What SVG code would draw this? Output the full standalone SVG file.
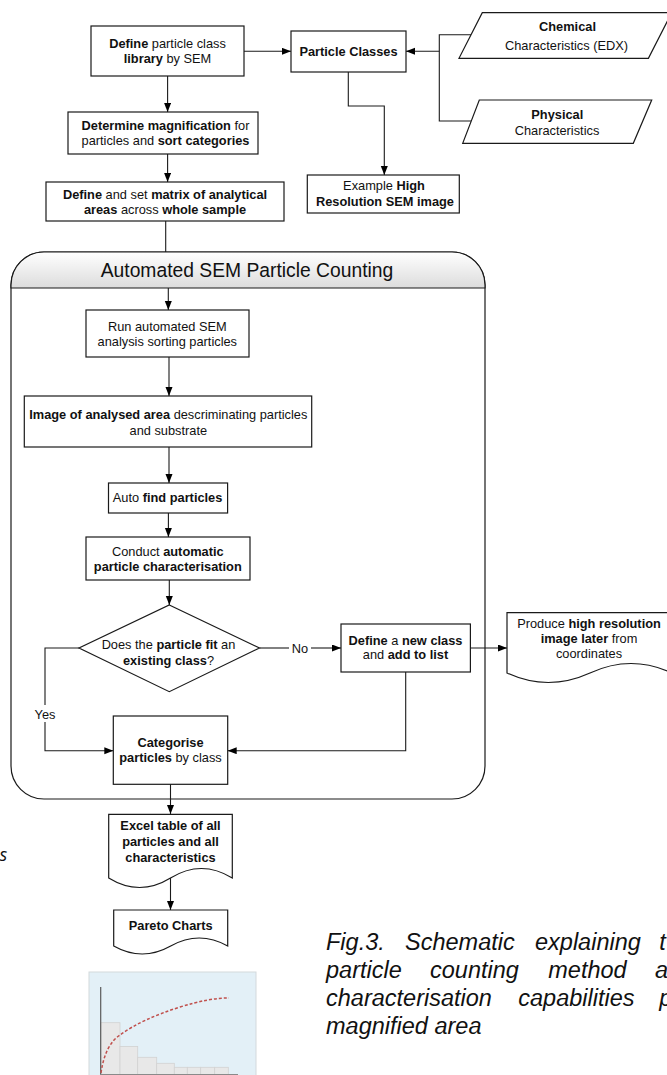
<svg xmlns="http://www.w3.org/2000/svg" width="667" height="1075" viewBox="0 0 667 1075">
<defs>
<marker id="ah" markerUnits="userSpaceOnUse" markerWidth="10" markerHeight="8" refX="9" refY="3.5" orient="auto">
<path d="M0,0 L9,3.5 L0,7 z" fill="#000"/>
</marker>
<linearGradient id="hdr" x1="0" y1="0" x2="0" y2="1">
<stop offset="0" stop-color="#ffffff"/>
<stop offset="1" stop-color="#dcdcdc"/>
</linearGradient>
<style>
text{font-family:"Liberation Sans",Arial,sans-serif;font-size:12.8px;fill:#111;text-anchor:middle}
.b{font-weight:bold}
.box{fill:#fff;stroke:#1a1a1a;stroke-width:1.2}
.ln{fill:none;stroke:#1a1a1a;stroke-width:1.1}
.arr{marker-end:url(#ah)}
.cap{font-size:23.5px;font-style:italic;text-anchor:start}
</style>
</defs>

<g id="container">
<path d="M11,285 A33,33 0 0 1 44,252 H452 A33,33 0 0 1 485,285 V766 A33,33 0 0 1 452,799 H44 A33,33 0 0 1 11,766 Z" fill="#fff" stroke="#1a1a1a" stroke-width="1.2"/>
<path d="M11,288 V285 A33,33 0 0 1 44,252 H452 A33,33 0 0 1 485,285 V288 Z" fill="url(#hdr)" stroke="#1a1a1a" stroke-width="1.2"/>
<text x="247" y="276.5" style="font-size:19.3px">Automated SEM Particle Counting</text>
</g>

<g id="connectors">
<path class="ln arr" d="M244,51.3 H291"/>
<path class="ln arr" d="M167.6,76 V112"/>
<path class="ln arr" d="M167.6,154 V182"/>
<path class="ln" d="M165.7,221 V252"/>
<path class="ln" d="M471,34.7 H439.3 V121 H471.2"/>
<path class="ln arr" d="M439.3,51.3 H406"/>
<path class="ln arr" d="M348.3,72 V106 H384.3 V175"/>
<path class="ln arr" d="M168.3,288 V310"/>
<path class="ln arr" d="M169,357 V396"/>
<path class="ln arr" d="M169,447 V483"/>
<path class="ln arr" d="M168.4,513 V537"/>
<path class="ln arr" d="M169.3,580 V605"/>
<path class="ln" d="M259.5,648 H289"/>
<path class="ln arr" d="M311,648 H341"/>
<text x="300" y="652.5">No</text>
<path class="ln arr" d="M470.4,648 H507"/>
<path class="ln arr" d="M79,648 H45 V750.7 H113.3"/>
<rect x="33" y="705" width="24" height="17" fill="#fff"/>
<text x="45" y="718.5">Yes</text>
<path class="ln arr" d="M405.7,672 V750.7 H227.7"/>
<path class="ln arr" d="M170.5,784 V814"/>
<path class="ln arr" d="M170.5,878 V910"/>
</g>

<g id="n-define-library">
<rect class="box" x="91" y="26" width="153" height="50"/>
<text x="167.5" y="47.5"><tspan class="b">Define</tspan> particle class</text>
<text x="167.5" y="63"><tspan class="b">library</tspan> by SEM</text>
</g>

<g id="n-magnification">
<rect class="box" x="68" y="112" width="190" height="42"/>
<text x="165.5" y="129.5"><tspan class="b">Determine magnification</tspan> for</text>
<text x="165.5" y="145">particles and <tspan class="b">sort categories</tspan></text>
</g>

<g id="n-matrix">
<rect class="box" x="46" y="182" width="238" height="39"/>
<text x="165" y="198.5"><tspan class="b">Define</tspan> and set <tspan class="b">matrix of analytical</tspan></text>
<text x="165" y="214"><tspan class="b">areas</tspan> across <tspan class="b">whole sample</tspan></text>
</g>

<g id="n-particle-classes">
<rect class="box" x="291" y="31" width="115" height="41"/>
<text x="348.5" y="56" class="b">Particle Classes</text>
</g>

<g id="n-chemical">
<path class="box" d="M482.3,12.7 H671.7 L648.4,58.3 H459 Z"/>
<text x="567.5" y="31" class="b">Chemical</text>
<text x="566.5" y="49.5">Characteristics (EDX)</text>
</g>

<g id="n-physical">
<path class="box" d="M479.3,100 H651.7 L633.3,143.3 H462.7 Z"/>
<text x="557.3" y="118.5" class="b">Physical</text>
<text x="557" y="134.5">Characteristics</text>
</g>

<g id="n-example">
<rect class="box" x="307.3" y="175" width="152" height="38"/>
<text x="384" y="190">Example <tspan class="b">High</tspan></text>
<text x="385" y="206" class="b">Resolution SEM image</text>
</g>

<g id="n-run">
<rect class="box" x="86" y="310" width="163" height="47"/>
<text x="167.3" y="331">Run automated SEM</text>
<text x="167.3" y="346">analysis sorting particles</text>
</g>

<g id="n-image">
<rect class="box" x="24.3" y="396" width="287.4" height="51"/>
<text x="168.3" y="418.5"><tspan class="b">Image of analysed area</tspan> descriminating particles</text>
<text x="168.3" y="434.5">and substrate</text>
</g>

<g id="n-auto-find">
<rect class="box" x="108.5" y="483" width="119.1" height="30"/>
<text x="167.6" y="502">Auto <tspan class="b">find particles</tspan></text>
</g>

<g id="n-conduct">
<rect class="box" x="86" y="537" width="164" height="43"/>
<text x="167.8" y="555.5">Conduct <tspan class="b">automatic</tspan></text>
<text x="167.8" y="571" class="b">particle characterisation</text>
</g>

<g id="n-decision">
<path class="box" d="M169.3,605 L259.5,648 L169.3,691.7 L79,648 Z"/>
<text x="168.5" y="648.5">Does the <tspan class="b">particle fit</tspan> an</text>
<text x="168.5" y="664.5"><tspan class="b">existing class</tspan>?</text>
</g>

<g id="n-new-class">
<rect class="box" x="341" y="624" width="129.4" height="48"/>
<text x="405.5" y="644.5"><tspan class="b">Define</tspan> a <tspan class="b">new class</tspan></text>
<text x="405.5" y="659">and <tspan class="b">add to list</tspan></text>
</g>

<g id="n-produce">
<path class="box" d="M507,612.7 H672 V673 Q631,654 590,673 Q548,692 507,673 Z"/>
<text x="589" y="627.5">Produce <tspan class="b">high resolution</tspan></text>
<text x="589" y="643"><tspan class="b">image later</tspan> from</text>
<text x="589" y="658">coordinates</text>
</g>

<g id="n-categorise">
<rect class="box" x="113.3" y="716" width="114.4" height="68.3"/>
<text x="170.5" y="747" class="b">Categorise</text>
<text x="170.5" y="762"><tspan class="b">particles</tspan> by class</text>
</g>

<g id="n-excel">
<path class="box" d="M108.7,814.3 H232.3 V878 Q201.4,859 170.5,878 Q139.6,897 108.7,878 Z"/>
<text x="170.5" y="830" class="b">Excel table of all</text>
<text x="170.5" y="846" class="b">particles and all</text>
<text x="170.5" y="861.5" class="b">characteristics</text>
</g>

<g id="n-pareto">
<path class="box" d="M113.7,910 H227.7 V946 Q199.2,930 170.7,946 Q142.2,962 113.7,946 Z"/>
<text x="170.7" y="930" class="b">Pareto Charts</text>
</g>

<g id="chart">
<rect x="89" y="972" width="167" height="110" fill="#e3f0f7" stroke="#d3d9dc" stroke-width="1"/>
<g fill="#e8e8e8" stroke="#d2d2d2" stroke-width="0.8">
<rect x="100.7" y="1022.7" width="19.3" height="52"/>
<rect x="120" y="1046.5" width="17.7" height="28"/>
<rect x="137.7" y="1057.3" width="19" height="18"/>
<rect x="156.7" y="1063.3" width="17.6" height="12"/>
<rect x="174.3" y="1067.3" width="13" height="8"/>
<rect x="187.3" y="1067.3" width="13.4" height="8"/>
<rect x="200.7" y="1067.3" width="14" height="8"/>
<rect x="214.7" y="1067.3" width="13.6" height="8"/>
</g>
<line x1="100.7" y1="987" x2="100.7" y2="1075" stroke="#5a5a5a" stroke-width="1.2"/>
<line x1="100" y1="1074.5" x2="238" y2="1074.5" stroke="#8a8a8a" stroke-width="1"/>
<path d="M101,1073 C104,1052 111,1041 120,1035 C135,1024 155,1015 180,1007 C200,1001 214,998 229,998" fill="none" stroke="#c0504d" stroke-width="1.5" stroke-dasharray="3,2"/>
</g>

<g id="caption">
<text class="cap" y="950"><tspan x="326">Fig.3.</tspan><tspan x="405">Schematic</tspan><tspan x="535">explaining</tspan><tspan x="659.3">t</tspan></text>
<text class="cap" y="978"><tspan x="326">particle</tspan><tspan x="430">counting</tspan><tspan x="548.3">method</tspan><tspan x="655">a</tspan></text>
<text class="cap" y="1006"><tspan x="326">characterisation</tspan><tspan x="518.3">capabilities</tspan><tspan x="659.3">p</tspan></text>
<text class="cap" x="326" y="1034">magnified area</text>
<text x="-0.5" y="860.5" style="font-family:'Open Sans',sans-serif;font-style:italic;font-size:18px;text-anchor:start">s</text>
</g>
</svg>
